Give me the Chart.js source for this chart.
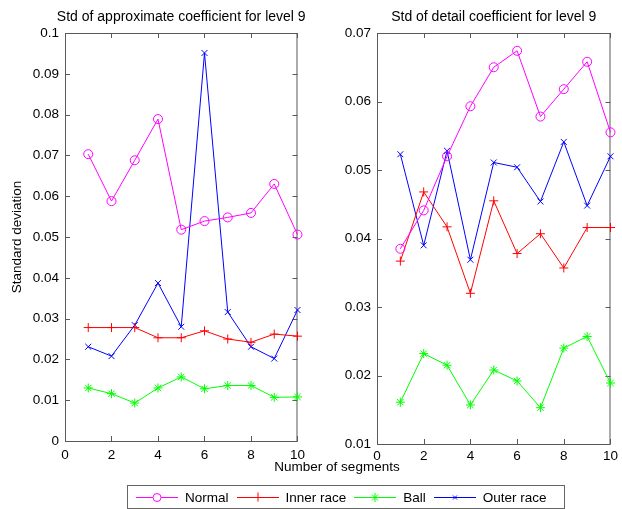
<!DOCTYPE html>
<html>
<head>
<meta charset="utf-8">
<script src="https://cdn.jsdelivr.net/npm/chart.js@4"></script>
<style>
  body { margin: 0; background: #fff; font-family: "Liberation Sans", Arial, sans-serif; }
  #wrap { position: relative; width: 622px; height: 509px; overflow: hidden; }
  #c1 { position: absolute; left: 0; top: 0; }
  #c2 { position: absolute; left: 320px; top: 0; }
  #xlabel { position: absolute; left: 237px; width: 200px; top: 459px; text-align: center; font-size: 13.5px; color: #000; }
  #legend { position: absolute; left: 127px; top: 485px; width: 428px; height: 22px; border: 1px solid #666;
            display: flex; align-items: center; font-size: 13.5px; color: #000; padding-left: 8px; box-sizing: content-box; }
  #legend .item { display: flex; align-items: center; margin-right: 8px; }
  #legend svg { margin-right: 7px; }
</style>
</head>
<body>
<div id="wrap">
  <canvas id="c1" width="311" height="460"></canvas>
  <canvas id="c2" width="302" height="460"></canvas>
  <div id="xlabel">Number of segments</div>
  <div id="legend"></div>
</div>
<script>
// data
const segments = [1, 2, 3, 4, 5, 6, 7, 8, 9, 10];
const seriesNames = ['Normal', 'Inner race', 'Ball', 'Outer race'];

// Std of approximate coefficient (level 9)
const approxNormal = [0.0703, 0.0588, 0.0688, 0.0789, 0.0518, 0.0539, 0.0548, 0.0559, 0.0630, 0.0506];
const approxInner  = [0.0278, 0.0278, 0.0278, 0.0253, 0.0253, 0.0270, 0.0250, 0.0242, 0.0262, 0.0257];
const approxBall   = [0.0130, 0.0116, 0.0093, 0.0130, 0.0157, 0.0128, 0.0136, 0.0136, 0.0107, 0.0108];
const approxOuter  = [0.0231, 0.0208, 0.0284, 0.0387, 0.0280, 0.0951, 0.0316, 0.0231, 0.0202, 0.0321];

// Std of detail coefficient (level 9)
const detailNormal = [0.0385, 0.0441, 0.0520, 0.0593, 0.0650, 0.0674, 0.0578, 0.0618, 0.0658, 0.0555];
const detailInner  = [0.0367, 0.0468, 0.0417, 0.0320, 0.0455, 0.0378, 0.0407, 0.0357, 0.0416, 0.0416];
const detailBall   = [0.0161, 0.0232, 0.0215, 0.0157, 0.0208, 0.0192, 0.0153, 0.0240, 0.0257, 0.0189];
const detailOuter  = [0.0523, 0.0390, 0.0528, 0.0369, 0.0511, 0.0504, 0.0454, 0.0541, 0.0448, 0.0520];

const colors = ['#ff00ff', '#ff0000', '#00ff00', '#0000ff'];
const markers = ['circle', 'cross', 'star', 'crossRot'];
const markerSize = [4.5, 4.5, 4.5, 4.2];
const axisColor = '#595959';
const fontFamily = '"Liberation Sans", Arial, sans-serif';

function makeDatasets(lists) {
    return lists.map(function(vals, i) {
        return {
            label: seriesNames[i],
            data: segments.map(function(s, j) { return { x: s, y: vals[j] }; }),
            borderColor: colors[i],
            backgroundColor: 'transparent',
            pointBorderColor: colors[i],
            pointBackgroundColor: 'transparent',
            pointStyle: markers[i],
            pointRadius: markerSize[i],
            pointBorderWidth: 1,
            borderWidth: 1,
            tension: 0,
            clip: false
        };
    });
}

// box + inward ticks like a matlab axes, and the title above it
const matlabAxes = {
    id: 'matlabAxes',
    beforeDatasetsDraw(chart, args, opts) {
        const ctx = chart.ctx;
        const a = chart.chartArea;
        ctx.save();
        ctx.strokeStyle = axisColor;
        ctx.lineWidth = 1;
        ctx.strokeRect(a.left + 0.5, a.top + 0.5, a.right - a.left - 1, a.bottom - a.top);
        ctx.beginPath();
        chart.scales.x.ticks.forEach(function(t) {
            const px = Math.round(chart.scales.x.getPixelForValue(t.value)) + 0.5;
            ctx.moveTo(px, a.bottom); ctx.lineTo(px, a.bottom - 5);
            ctx.moveTo(px, a.top); ctx.lineTo(px, a.top + 5);
        });
        chart.scales.y.ticks.forEach(function(t) {
            const py = Math.round(chart.scales.y.getPixelForValue(t.value)) + 0.5;
            ctx.moveTo(a.left, py); ctx.lineTo(a.left + 5, py);
            ctx.moveTo(a.right, py); ctx.lineTo(a.right - 5, py);
        });
        ctx.stroke();
        ctx.fillStyle = '#000';
        ctx.font = '14px ' + fontFamily;
        ctx.textAlign = 'center';
        ctx.textBaseline = 'middle';
        ctx.fillText(opts.text, (a.left + a.right) / 2, a.top - 16);
        ctx.restore();
    }
};

function makeChart(id, lists, title, yMin, yMax, yWidth, xHeight, xPad, rightPad, yTitle) {
    return new Chart(document.getElementById(id), {
        type: 'line',
        data: { datasets: makeDatasets(lists) },
        plugins: [matlabAxes],
        options: {
            responsive: false,
            animation: false,
            layout: { padding: { top: 33, right: rightPad, left: 0, bottom: 0 } },
            plugins: {
                legend: { display: false },
                tooltip: { enabled: false },
                matlabAxes: { text: title }
            },
            scales: {
                x: {
                    type: 'linear',
                    min: 0,
                    max: 10,
                    grid: { display: false, drawTicks: false },
                    border: { display: false },
                    ticks: { stepSize: 2, color: '#000', padding: xPad, maxRotation: 0,
                             font: { family: fontFamily, size: 13.5 } },
                    afterFit: function(scale) { scale.height = xHeight; }
                },
                y: {
                    min: yMin,
                    max: yMax,
                    grid: { display: false, drawTicks: false },
                    border: { display: false },
                    title: {
                        display: !!yTitle,
                        text: yTitle || '',
                        color: '#000',
                        padding: { top: 9, bottom: 0 },
                        font: { family: fontFamily, size: 13.5 }
                    },
                    ticks: {
                        stepSize: 0.01,
                        color: '#000',
                        padding: 6,
                        font: { family: fontFamily, size: 13.5 },
                        callback: function(v) { return String(+v.toFixed(2)); }
                    },
                    afterFit: function(scale) { scale.width = yWidth; }
                }
            }
        }
    });
}

document.addEventListener('DOMContentLoaded', function() {
    makeChart('c1', [approxNormal, approxInner, approxBall, approxOuter],
        'Std of approximate coefficient for level 9', 0, 0.1, 65, 19, 6, 9, 'Standard deviation');
    makeChart('c2', [detailNormal, detailInner, detailBall, detailOuter],
        'Std of detail coefficient for level 9', 0.01, 0.07, 57, 16, 4, 7, null);

    // legend: line sample with marker, then the name
    const legend = document.getElementById('legend');
    const ns = 'http://www.w3.org/2000/svg';
    seriesNames.forEach(function(name, i) {
        const item = document.createElement('div');
        item.className = 'item';
        const svg = document.createElementNS(ns, 'svg');
        svg.setAttribute('width', '42');
        svg.setAttribute('height', '12');
        let d = 'M0 6.5 H42 ';
        if (markers[i] === 'cross') d += 'M21 1.5 V10.5 M16.5 6.5 H25.5';
        if (markers[i] === 'star') d += 'M21 2 V11 M16.5 6.5 H25.5 M18 3.5 L24 9.5 M24 3.5 L18 9.5';
        if (markers[i] === 'crossRot') d += 'M19 4.5 L23 8.5 M23 4.5 L19 8.5';
        const path = document.createElementNS(ns, 'path');
        path.setAttribute('d', d);
        path.setAttribute('stroke', colors[i]);
        path.setAttribute('fill', 'none');
        path.setAttribute('stroke-width', '1');
        svg.appendChild(path);
        if (markers[i] === 'circle') {
            const c = document.createElementNS(ns, 'circle');
            c.setAttribute('cx', '21'); c.setAttribute('cy', '6.5'); c.setAttribute('r', '4');
            c.setAttribute('stroke', colors[i]); c.setAttribute('fill', '#fff');
            svg.appendChild(c);
        }
        item.appendChild(svg);
        const span = document.createElement('span');
        span.textContent = name;
        item.appendChild(span);
        legend.appendChild(item);
    });
});
</script>
</body>
</html>
